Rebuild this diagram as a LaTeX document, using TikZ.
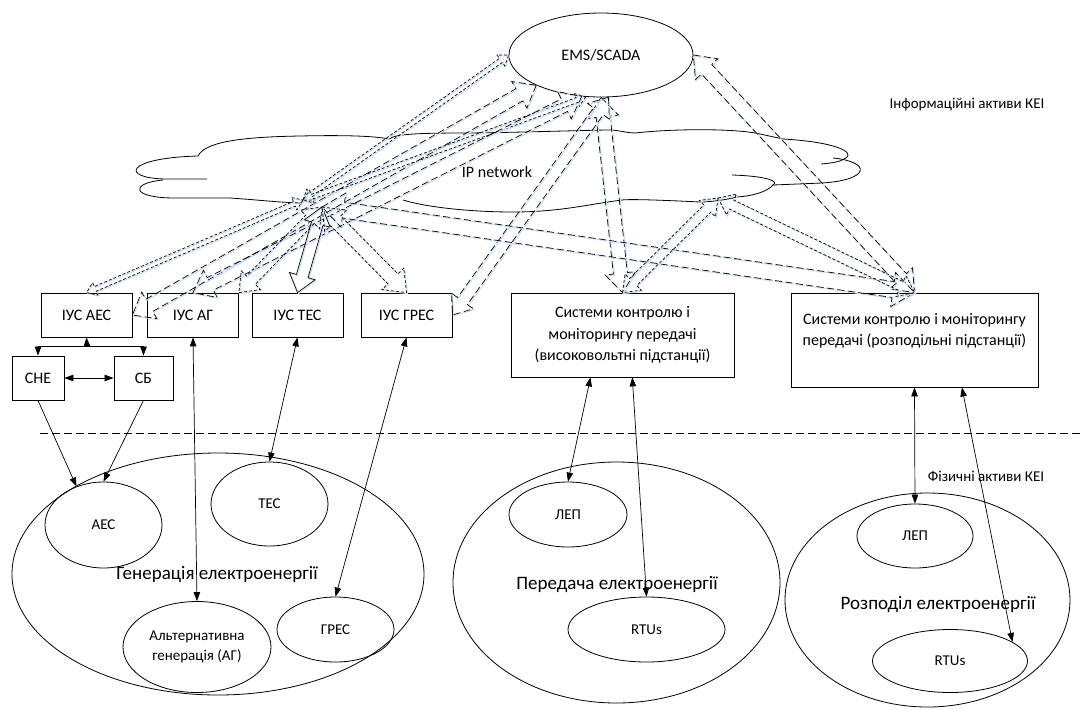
\documentclass[tikz,border=0pt]{standalone}
\usepackage{fontspec}
\setmainfont{Carlito}
\usetikzlibrary{arrows.meta,calc,shapes.geometric}
\definecolor{glowblue}{RGB}{204,222,244}
\tikzset{
  box/.style={rectangle,draw,line width=0.8pt,inner sep=2pt,align=center,
              font=\fontsize{16}{21.5}\selectfont},
  ius/.style={box,minimum width=91pt,minimum height=44pt},
  oval/.style={ellipse,draw,line width=0.8pt,inner sep=0pt,align=center,
               font=\fontsize{15}{20}\selectfont},
  area/.style={font=\fontsize{19}{22}\selectfont},
  tag/.style={font=\fontsize{15}{18}\selectfont},
  link/.style={arrows={Triangle[length=9pt,width=6.5pt]-Triangle[length=9pt,width=6.5pt]},line width=0.7pt},
  feed/.style={arrows={-Triangle[length=9pt,width=6.5pt]},line width=0.7pt},
  cloudline/.style={line width=0.8pt},
  sepline/.style={line width=0.7pt,dash pattern=on 8pt off 4pt},
  netline/.style={line width=0.7pt,dash pattern=on 3pt off 2pt,line join=miter,
     preaction={draw=glowblue,line width=1pt,solid,
                transform canvas={shift={(1pt,-1pt)}}}},
  longdash/.style={dash pattern=on 7pt off 3.5pt},
  every picture/.style={line cap=butt}}
% hollow double arrow between two points: [style]{from}{to}{half width}
\newcommand\netarrow[4][]{%
  \pgfmathsetlengthmacro\nahw{#4}%
  \pgfmathsetlengthmacro\nahh{2+1.9*#4}%
  \pgfmathsetlengthmacro\nahl{4+2.2*#4}%
  \draw[netline,#1] (#2)
    -- ($(#2)!\nahl!(#3)!\nahh!90:(#3)$)
    -- ($(#2)!\nahl!(#3)!\nahw!90:(#3)$)
    -- ($(#3)!\nahl!(#2)!\nahw!-90:(#2)$)
    -- ($(#3)!\nahl!(#2)!\nahh!-90:(#2)$)
    -- (#3)
    -- ($(#3)!\nahl!(#2)!\nahh!90:(#2)$)
    -- ($(#3)!\nahl!(#2)!\nahw!90:(#2)$)
    -- ($(#2)!\nahl!(#3)!\nahw!-90:(#3)$)
    -- ($(#2)!\nahl!(#3)!\nahh!-90:(#3)$)
    -- cycle;}

\begin{document}
\begin{tikzpicture}[x=1pt,y=-1pt]
  \useasboundingbox (0,0) rectangle (1080,710);
  % information layer
  \node[oval,minimum width=184pt,minimum height=84pt,font=\fontsize{16}{19}\selectfont]
    (ems) at (601,55) {EMS/SCADA};
  \node[tag] (infoassets) at (967,105) {Інформаційні активи КЕІ};
  \node[tag,font=\fontsize{16}{19}\selectfont] (ipnet) at (497,172) {IP network};
  % cloud
  \draw[cloudline] (207,179) -- (165,179) .. controls (120,178) and (125,158) .. (198,156)
    .. controls (205,142) and (240,137) .. (300,136)
    .. controls (345,135) and (375,136) .. (389,139)
    .. controls (396,134) and (415,133) .. (470,133)
    .. controls (540,132) and (590,130) .. (612,130)
    .. controls (622,131) and (628,133) .. (635,133)
    .. controls (680,128) and (740,129) .. (760,134) -- (783,139)
    .. controls (835,142) and (855,152) .. (846,158)
    .. controls (840,162) and (832,163) .. (821,164);
  \draw[cloudline] (833,158) .. controls (872,162) and (870,180) .. (822,183) -- (773,185);
  \draw[cloudline] (732,175) .. controls (765,176) and (780,181) .. (773,185)
    .. controls (767,192) and (752,196) .. (737,197)
    .. controls (725,200) and (710,202) .. (700,202)
    .. controls (660,200) and (630,199) .. (622,200)
    .. controls (590,204) and (560,212) .. (513,212)
    .. controls (470,212) and (425,207) .. (403,200);
  \draw[cloudline] (163,180) .. controls (130,183) and (130,198) .. (175,198) -- (230,198)
    .. controls (260,200) and (285,203) .. (303,203);
  \coordinate (hubw) at (303,200);
  \coordinate (hubc) at (322,207);
  \coordinate (hube) at (718,198);
  % control systems
  \node[ius] (iusaes) at (86.5,315) {ІУС АЕС};
  \node[ius] (iusag) at (193,315) {ІУС АГ};
  \node[ius] (iustes) at (297.5,315) {ІУС ТЕС};
  \node[ius] (iusgres) at (406.5,315) {ІУС ГРЕС};
  \node[box,minimum width=52pt,minimum height=44pt] (sne) at (38,378) {СНЕ};
  \node[box,minimum width=59pt,minimum height=44pt] (sb) at (143.5,378) {СБ};
  \node[box,minimum width=223pt,minimum height=84pt] (hvbox) at (622.5,335)
    {Системи контролю і\\моніторингу передачі\\(високовольтні підстанції)};
  \node[box,minimum width=247pt,minimum height=94pt] (dsbox) at (914.5,340)
    {Системи контролю і моніторингу\\передачі (розподільні підстанції)\\\mbox{}};
  % network arrows
  \netarrow{hubw}{ems.west}{2.5}
  \netarrow[longdash]{ems.205}{iusaes.east}{7}
  \netarrow{ems.250}{hubw}{2.5}
  \netarrow[longdash]{ems.245}{iusag.north}{7}
  \netarrow[longdash]{ems.south}{hvbox.north}{7}
  \netarrow[longdash]{ems.280}{iusgres.east}{6}
  \netarrow[longdash]{ems.east}{dsbox.north}{7}
  \netarrow[longdash]{hubc}{dsbox.north}{8}
  \netarrow{hube}{dsbox.north}{5}
  \netarrow{hube}{hvbox.north}{5}
  \netarrow{hubw}{iusaes.north}{2.5}
  \netarrow{hubc}{iusag.north east}{6}
  \netarrow[solid]{hubc}{iustes.north}{6}
  \netarrow{hubc}{iusgres.north}{7}
  % boundary between layers
  \coordinate (sepw) at (40,433);
  \coordinate (sepe) at (1080,433);
  \draw[sepline] (sepw) -- (sepe);
  \node[tag] (physassets) at (986,476) {Фізичні активи КЕІ};
  % physical assets
  \node[oval,minimum width=412pt,minimum height=242pt] (gen) at (218,574) {};
  \node[area] (genlbl) at (217,575) {Генерація електроенергії};
  \node[oval,minimum width=117pt,minimum height=86pt] (aes) at (103.5,525) {АЕС};
  \node[oval,minimum width=117pt,minimum height=84pt] (tes) at (269.5,504) {ТЕС};
  \node[oval,minimum width=148pt,minimum height=91pt] (altgen) at (197,647)
    {Альтернативна\\генерація (АГ)};
  \node[oval,minimum width=117pt,minimum height=65pt] (gres) at (335.5,629.5) {ГРЕС};
  \node[oval,minimum width=327pt,minimum height=241pt] (trans) at (616.5,582.5) {};
  \node[area] (translbl) at (617,585) {Передача електроенергії};
  \node[oval,minimum width=118pt,minimum height=65pt] (trlep) at (568,514.5) {ЛЕП};
  \node[oval,minimum width=157pt,minimum height=65pt] (trrtu) at (646.5,629.5) {RTUs};
  \node[oval,minimum width=285pt,minimum height=214pt] (dist) at (927.5,600) {};
  \node[area] (distlbl) at (938,605) {Розподіл електроенергії};
  \node[oval,minimum width=116pt,minimum height=64pt] (dslep) at (915,536) {ЛЕП};
  \node[oval,minimum width=155pt,minimum height=63pt] (dsrtu) at (950,661) {RTUs};
  % links
  \coordinate (tee) at (87,346);
  \coordinate (teel) at (sne.north |- tee);
  \coordinate (teer) at (sb.north |- tee);
  \draw[feed] (tee) -- (iusaes.south);
  \draw[line width=0.7pt] (teel) -- (teer);
  \draw[feed] (teel) -- (sne.north);
  \draw[feed] (teer) -- (sb.north);
  \draw[link] (sne) -- (sb);
  \draw[feed] (sne.south) -- (aes.125);
  \draw[feed] (sb.south) -- (aes.north);
  \draw[link] (iusag.south) -- (altgen.north);
  \draw[link] (iustes.south) -- (tes.north);
  \draw[link] (iusgres.south) -- (gres.north);
  \draw[link] (hvbox.233) -- (trlep.north);
  \draw[link] (hvbox.283) -- (trrtu.north);
  \draw[link] (dsbox.south) -- (dslep.north);
  \draw[link] (dsbox.315) -- (dsrtu.17);
\end{tikzpicture}
\end{document}
